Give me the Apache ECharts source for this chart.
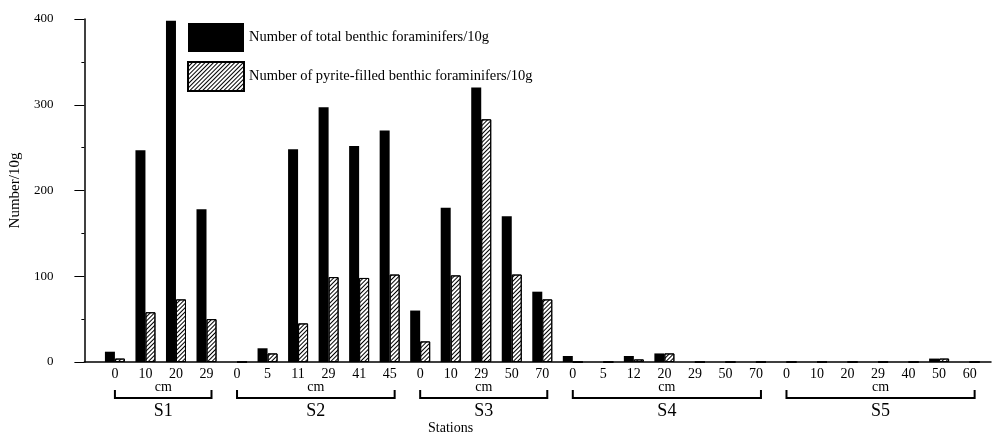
<!DOCTYPE html>
<html>
<head>
<meta charset="utf-8">
<script src="https://cdn.jsdelivr.net/npm/echarts@6/dist/echarts.min.js"></script>
<style>
  html, body { margin: 0; padding: 0; background: #fff; }
  #chart { width: 994px; height: 437px; }
</style>
</head>
<body>
<div id="chart"></div>
<script>
// sample depths (cm) for each core, in station order
const depthLabels = ['0', '10', '20', '29',
  '0', '5', '11', '29', '41', '45',
  '0', '10', '29', '50', '70',
  '0', '5', '12', '20', '29', '50', '70',
  '0', '10', '20', '29', '40', '50', '60'];
const totalCounts = [12, 247, 398, 178,
  0, 16, 248, 297, 252, 270,
  60, 180, 320, 170, 82,
  7, 0, 7, 10, 0, 0, 0,
  0, 0, 0, 0, 0, 4, 0];
const pyriteCounts = [4, 58, 73, 50,
  0, 10, 45, 99, 98, 102,
  24, 101, 283, 102, 73,
  0, 0, 3, 10, 0, 0, 0,
  0, 0, 0, 0, 0, 4, 0];
const stations = ['S1', 'S2', 'S3', 'S4', 'S5'];
const stationSizes = [4, 6, 5, 7, 7];
const yTicks = [0, 100, 200, 300, 400];

const serif = '"Liberation Serif", "DejaVu Serif", serif';
const ink = '#000';

// first / last sample index of each station, for the brackets under the axis
let start = 0;
const stationRanges = stations.map((name, i) => {
  const r = [start, start + stationSizes[i] - 1];
  start += stationSizes[i];
  return r;
});

const chart = echarts.init(document.getElementById('chart'));

const hatch = {
  symbol: 'rect',
  symbolSize: 1,
  dashArrayX: [1, 0],
  dashArrayY: [1, 2],
  rotation: -Math.PI / 4,
  color: ink
};

function renderBracket(params, api) {
  const a = api.coord([api.value(0), 0]);
  const b = api.coord([api.value(1), 0]);
  const x0 = a[0];
  const x1 = b[0] + 5;
  const base = a[1];
  const mid = (x0 + x1) / 2;
  return {
    type: 'group',
    children: [
      {
        type: 'polyline',
        shape: { points: [[x0, base + 28], [x0, base + 36], [x1, base + 36], [x1, base + 28]] },
        style: { stroke: ink, lineWidth: 2, fill: null }
      },
      {
        type: 'text',
        style: { text: 'cm', x: mid, y: base + 25, align: 'center', verticalAlign: 'middle',
          font: '14px ' + serif, fill: ink }
      },
      {
        type: 'text',
        style: { text: stations[params.dataIndex], x: mid, y: base + 49, align: 'center',
          verticalAlign: 'middle', font: '18px ' + serif, fill: ink }
      }
    ]
  };
}

chart.setOption({
  animation: false,
  backgroundColor: '#fff',
  textStyle: { fontFamily: serif, color: ink },
  title: {
    text: 'Stations',
    left: 428,
    top: 421,
    padding: 0,
    textStyle: { fontFamily: serif, fontSize: 14, fontWeight: 'normal', color: ink }
  },
  legend: {
    orient: 'vertical',
    left: 187,
    top: 23,
    padding: 0,
    itemWidth: 56,
    itemHeight: 29,
    itemGap: 9,
    icon: 'rect',
    data: ['Number of total benthic foraminifers/10g', 'Number of pyrite-filled benthic foraminifers/10g'],
    textStyle: { fontFamily: serif, fontSize: 14.5, color: ink }
  },
  grid: { left: 82, right: 1, top: 19, bottom: 75, containLabel: false },
  xAxis: {
    type: 'value',
    min: -1,
    max: 28.7,
    interval: 1,
    axisLine: { show: true, onZero: false, lineStyle: { color: ink, width: 1.5 } },
    axisTick: { show: false },
    splitLine: { show: false },
    axisLabel: {
      color: ink,
      fontFamily: serif,
      fontSize: 14,
      margin: 5,
      formatter: v => (Number.isInteger(v) && v >= 0 && v < depthLabels.length) ? depthLabels[v] : ''
    }
  },
  yAxis: {
    type: 'value',
    min: yTicks[0],
    max: yTicks[yTicks.length - 1],
    interval: yTicks[1] - yTicks[0],
    name: 'Number/10g',
    nameLocation: 'middle',
    nameRotate: 90,
    nameGap: 56,
    nameTextStyle: { fontFamily: serif, fontSize: 15, color: ink },
    axisLine: { show: true, onZero: false, lineStyle: { color: ink, width: 1.5 } },
    axisTick: { show: true, length: 10, lineStyle: { color: ink } },
    minorTick: { show: true, splitNumber: 2, length: 3, lineStyle: { color: ink } },
    splitLine: { show: false },
    axisLabel: { color: ink, fontFamily: serif, fontSize: 13, margin: 31 }
  },
  series: [
    {
      name: 'Number of total benthic foraminifers/10g',
      type: 'bar',
      barWidth: 10,
      barGap: '0%',
      itemStyle: { color: ink },
      data: totalCounts.map((v, i) => [i, v])
    },
    {
      name: 'Number of pyrite-filled benthic foraminifers/10g',
      type: 'bar',
      barWidth: 10,
      barGap: '0%',
      itemStyle: { color: '#fff', borderColor: ink, borderWidth: 1, decal: hatch },
      data: pyriteCounts.map((v, i) => [i, v])
    },
    {
      name: 'stations',
      type: 'custom',
      clip: false,
      silent: true,
      renderItem: renderBracket,
      encode: { x: [0, 1] },
      data: stationRanges
    }
  ]
});

window.addEventListener('resize', () => chart.resize());
</script>
</body>
</html>
